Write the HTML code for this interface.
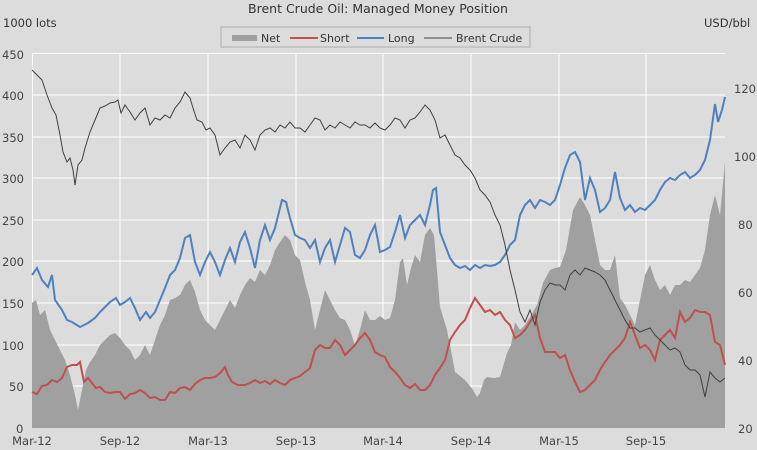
<!DOCTYPE html>
<html><head><meta charset="utf-8"><style>
html,body{margin:0;padding:0;background:#dcdcdc;}
svg{display:block;font-family:"DejaVu Sans","Liberation Sans",sans-serif;}
</style></head><body>
<svg width="757" height="450" viewBox="0 0 757 450">
<rect width="757" height="450" fill="#dcdcdc"/>
<g stroke="#fff" stroke-width="1">
<line x1="32" y1="53.5" x2="725" y2="53.5"/><line x1="32" y1="95" x2="725" y2="95"/><line x1="32" y1="137" x2="725" y2="137"/><line x1="32" y1="178" x2="725" y2="178"/><line x1="32" y1="220" x2="725" y2="220"/><line x1="32" y1="261" x2="725" y2="261"/><line x1="32" y1="303" x2="725" y2="303"/><line x1="32" y1="345" x2="725" y2="345"/><line x1="32" y1="386" x2="725" y2="386"/>
<line x1="32.5" y1="53" x2="32.5" y2="428"/><line x1="120" y1="53" x2="120" y2="428"/><line x1="208" y1="53" x2="208" y2="428"/><line x1="296" y1="53" x2="296" y2="428"/><line x1="383" y1="53" x2="383" y2="428"/><line x1="471" y1="53" x2="471" y2="428"/><line x1="559" y1="53" x2="559" y2="428"/><line x1="646" y1="53" x2="646" y2="428"/>
</g>
<polygon fill="#a0a0a0" points="32,428 32,303 36,300 40,315 45,310 50,330 55,340 60,350 65,360 70,375 75,395 78,410 82,390 86,370 90,362 95,355 100,345 105,340 110,335 115,333 120,338 125,345 130,350 135,360 140,355 145,345 150,355 155,340 160,325 165,315 170,300 175,298 180,295 185,285 190,280 195,292 200,310 205,320 210,325 215,330 220,320 225,310 230,300 235,308 240,295 245,285 250,278 255,282 260,270 265,275 270,265 275,250 280,242 285,235 290,240 295,255 300,260 305,282 310,300 315,330 320,310 325,290 330,300 335,310 340,318 345,320 350,330 355,345 360,330 365,310 370,320 375,320 380,316 385,320 390,318 395,300 400,262 403,258 407,285 411,268 415,255 420,262 425,235 430,228 434,235 437,270 440,307 447,330 450,345 455,372 460,376 465,380 470,386 473,390 477,397 480,393 484,380 487,377 494,378 500,377 507,353 511,345 515,322 520,330 525,325 530,317 537,305 543,283 550,270 555,268 560,267 566,250 573,210 580,197 585,205 590,215 595,240 600,265 605,270 610,270 615,255 620,298 625,305 630,315 635,325 640,300 645,275 650,265 655,280 660,290 665,285 670,295 675,285 680,285 685,280 690,282 695,275 700,268 705,250 710,215 715,195 720,215 725,162 725,428"/>
<polyline fill="none" stroke="#c0504d" stroke-width="2" points="32,392 37,394 42,386 47,385 52,380 57,382 62,378 67,367 72,365 77,365 80,362 84,382 88,378 92,383 96,388 100,387 105,392 110,393 115,392 120,392 125,399 130,394 135,393 140,390 145,393 150,398 155,397 160,400 165,400 170,392 175,393 180,388 185,387 190,390 195,384 200,380 205,378 210,378 215,377 220,373 225,367 228,375 232,382 238,385 245,385 250,383 255,380 260,383 265,381 270,384 275,380 280,383 285,385 290,380 295,378 300,376 305,372 310,368 315,350 320,345 325,348 330,348 335,340 340,345 345,355 350,350 355,345 360,338 365,333 370,340 375,352 380,355 385,357 390,367 395,372 400,378 405,385 410,388 415,384 420,390 425,390 430,385 435,375 440,368 445,360 450,340 455,332 460,325 465,320 470,308 475,298 480,305 485,312 490,310 495,315 500,312 505,320 510,325 515,338 520,335 525,330 530,322 535,315 540,338 545,352 550,352 555,352 560,358 565,355 570,370 575,382 580,392 585,390 590,385 595,380 600,370 605,362 610,355 615,350 620,345 625,338 630,322 635,335 640,348 645,345 650,350 655,360 660,340 665,335 670,330 675,338 680,312 685,322 690,318 695,310 700,312 705,312 710,315 715,342 720,345 725,365"/>
<polyline fill="none" stroke="#4f81bd" stroke-width="2" points="32,275 37,268 42,280 48,287 52,275 55,300 62,310 67,320 72,322 80,327 88,323 95,318 100,312 110,302 116,298 120,305 125,302 130,298 135,308 140,320 146,312 150,318 155,312 160,300 165,288 170,275 175,270 180,258 185,238 190,235 195,262 200,275 205,262 210,252 215,262 220,275 225,260 230,248 235,262 240,242 245,232 250,248 255,268 260,240 265,225 270,240 275,228 282,200 286,202 290,218 295,235 300,238 305,240 310,248 315,240 320,262 325,248 330,240 335,262 340,245 345,228 350,232 355,255 360,258 365,250 370,235 375,225 380,252 385,250 390,247 395,232 400,215 405,238 410,225 415,220 420,215 425,225 430,205 433,190 436,188 440,232 445,245 450,258 455,265 460,268 465,266 470,270 475,265 480,268 485,265 490,266 495,265 500,262 505,255 510,245 515,240 520,215 525,205 530,200 535,208 540,200 545,202 550,205 555,200 560,185 565,168 570,155 575,152 580,162 585,200 590,178 595,190 600,212 605,208 610,200 615,172 620,198 625,210 630,205 635,212 640,208 645,210 650,205 655,200 660,190 665,182 670,178 675,180 680,175 685,172 690,178 695,175 700,170 705,160 710,140 715,104 718,122 722,110 725,97"/>
<polyline fill="none" stroke="#404040" stroke-width="1" points="32,70 37,75 42,80 47,95 52,108 56,115 60,135 63,152 67,162 70,158 73,170 75,185 78,165 82,160 85,148 90,132 95,120 100,108 105,106 110,103 115,102 118,100 121,113 125,105 130,112 135,120 140,113 145,108 150,125 155,118 160,120 165,115 170,118 175,108 180,102 185,92 190,98 193,108 197,120 202,122 206,130 210,128 215,135 220,155 225,148 230,142 235,140 240,148 245,135 250,140 255,150 260,135 265,130 270,128 275,132 280,125 285,128 290,122 295,128 300,128 305,132 310,125 315,118 320,120 325,130 330,125 335,128 340,122 345,125 350,128 355,122 360,125 365,125 370,128 375,123 380,128 385,130 390,125 395,118 400,120 405,128 410,120 415,118 420,112 425,105 430,110 435,120 440,138 445,135 450,145 455,155 460,158 465,165 470,170 475,178 480,190 485,195 490,202 495,215 500,225 505,245 510,270 515,290 520,312 525,322 530,310 535,325 540,302 545,290 550,283 555,285 560,285 565,290 570,275 575,270 580,275 585,268 590,270 595,272 600,275 605,280 610,290 615,300 620,310 625,320 630,328 635,328 640,332 645,330 650,328 655,335 660,340 665,345 670,350 675,348 680,352 685,365 690,370 695,370 700,375 705,397 710,372 715,378 720,382 725,378"/>
<g font-size="11.5" fill="#333">
<text x="378" y="13" text-anchor="middle" font-size="12.5">Brent Crude Oil: Managed Money Position</text>
<text x="3" y="27">1000 lots</text>
<text x="704" y="27">USD/bbl</text>
<g text-anchor="start" fill="#444">
<text x="2" y="59">450</text><text x="2" y="100">400</text><text x="2" y="142">350</text><text x="2" y="183">300</text><text x="2" y="225">250</text><text x="2" y="266">200</text><text x="2" y="308">150</text><text x="2" y="350">100</text><text x="9" y="391">50</text><text x="16" y="433">0</text>
<text x="734" y="93">120</text><text x="734" y="161">100</text><text x="738" y="229">80</text><text x="738" y="297">60</text><text x="738" y="365">40</text><text x="738" y="433">20</text>
</g>
<g text-anchor="middle" fill="#444">
<text x="32" y="445">Mar-12</text><text x="120" y="445">Sep-12</text><text x="208" y="445">Mar-13</text><text x="296" y="445">Sep-13</text><text x="383" y="445">Mar-14</text><text x="471" y="445">Sep-14</text><text x="559" y="445">Mar-15</text><text x="646" y="445">Sep-15</text>
</g>
</g>
<rect x="221" y="27" width="309" height="20" fill="#dcdcdc" stroke="#bdbdbd" stroke-width="1.5"/>
<rect x="232" y="35" width="25" height="6" fill="#a0a0a0"/>
<line x1="290" y1="38" x2="318" y2="38" stroke="#c0504d" stroke-width="2"/>
<line x1="357" y1="38" x2="384" y2="38" stroke="#4f81bd" stroke-width="2"/>
<line x1="424" y1="38" x2="452" y2="38" stroke="#404040" stroke-width="1"/>
<g font-size="11" fill="#333">
<text x="261" y="42">Net</text><text x="320" y="42">Short</text><text x="388" y="42">Long</text><text x="456" y="42">Brent Crude</text>
</g>
</svg>
</body></html>
